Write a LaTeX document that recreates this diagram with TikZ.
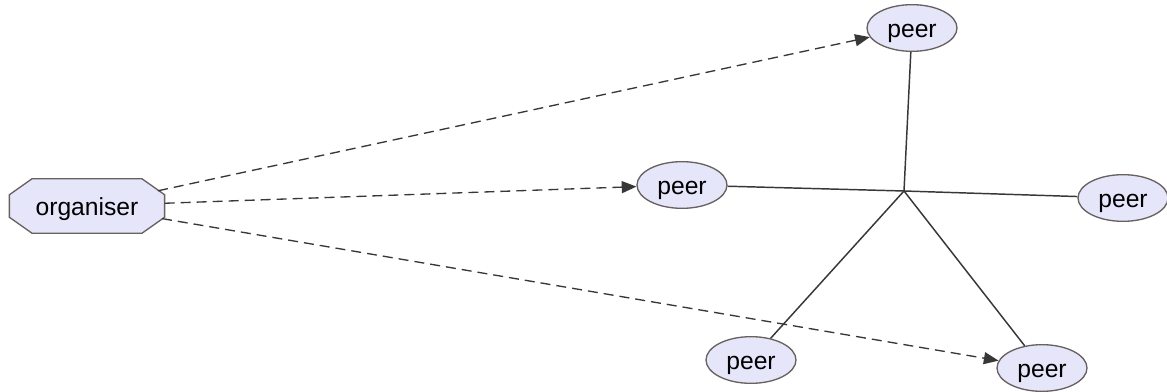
\documentclass[tikz,border=0pt]{standalone}
\usepackage{fontspec}
\setmainfont{Liberation Sans}
\usetikzlibrary{shapes.geometric,arrows.meta,backgrounds}

\definecolor{peerfill}{RGB}{230,230,250}
\definecolor{peerline}{RGB}{105,96,96}
\definecolor{edgeline}{RGB}{55,55,55}

\tikzset{
    label font/.style={font=\fontsize{18.5}{20}\selectfont, text height=14pt, text depth=0pt},
    peer/.style={draw=peerline, fill=peerfill, ellipse, line width=1pt,
        minimum width=67.5pt, minimum height=35pt, inner sep=0pt, label font},
    organiser/.style={rectangle, minimum width=116pt, minimum height=40.5pt, inner sep=0pt,
        label font},
    octagon/.style={draw=peerline, fill=peerfill, line width=1pt},
    invite/.style={draw=edgeline, line width=1pt, dash pattern=on 7.5pt off 4.5pt,
        -{Triangle[length=11pt,width=9pt]}},
    link/.style={draw=edgeline, line width=1.1pt}
}

\begin{document}
\begin{tikzpicture}[x=0.75pt,y=-0.75pt]
        \useasboundingbox (0,0) rectangle (1167,392);
        % Define the nodes
        \node[organiser] (org)   at (87,206)   {organiser};
        \node[peer]      (top)   at (912,28)   {peer};
        \node[peer]      (mid)   at (682,185)  {peer};
        \node[peer]      (right) at (1123,198) {peer};
        \node[peer]      (botl)  at (751,360)  {peer};
        \node[peer]      (botr)  at (1042,368) {peer};
        \coordinate      (hub)   at (904,191);
        % Octagon behind the organiser's label
        \begin{scope}[on background layer]
            \draw[octagon] ([xshift=17pt]org.north west) -- ([xshift=-17pt]org.north east)
                -- ([yshift=-12pt]org.north east) -- ([yshift=12pt]org.south east)
                -- ([xshift=-17pt]org.south east) -- ([xshift=17pt]org.south west)
                -- ([yshift=12pt]org.south west) -- ([yshift=-12pt]org.north west) -- cycle;
        \end{scope}
        % Connect the peers
        \draw[link] (top) -- (hub);
        \draw[link] (mid) -- (hub);
        \draw[link] (hub) -- (right);
        \draw[link] (hub) -- (botl);
        \draw[link] (hub) -- (botr);
        % Invitations from the organiser
        \draw[invite, shorten <=-5pt] (org) -- (top);
        \draw[invite] (org) -- (mid);
        \draw[invite, shorten <=-2pt] (org) -- (botr);
\end{tikzpicture}
\end{document}
